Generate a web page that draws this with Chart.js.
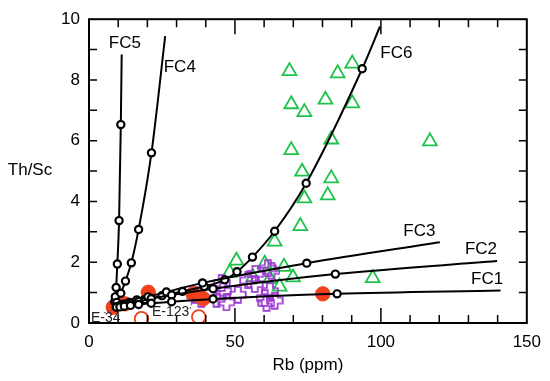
<!DOCTYPE html>
<html lang="en">
<head>
<meta charset="UTF-8">
<title>Th/Sc vs Rb</title>
<script src="https://cdn.jsdelivr.net/npm/chart.js@4.4.0/dist/chart.umd.min.js"></script>
<style>
  html, body { margin: 0; padding: 0; background: #fff; }
</style>
</head>
<body>
<canvas id="chart" width="550" height="381"></canvas>
<script>
// FC curves: first point = E-34 start, last point = end of line (no marker)
const fc1Rb   = [8.5, 9.4, 10.6, 12.1, 14.2, 17.0, 21.3, 28.3, 42.5, 85.0, 141.0];
const fc1ThSc = [0.50, 0.52, 0.53, 0.55, 0.58, 0.61, 0.65, 0.70, 0.79, 0.96, 1.07];
const fc2Rb   = [8.5, 9.4, 10.6, 12.1, 14.2, 17.0, 21.3, 28.3, 42.5, 84.4, 139.8];
const fc2ThSc = [0.50, 0.53, 0.56, 0.60, 0.65, 0.71, 0.80, 0.92, 1.13, 1.61, 2.04];
const fc3Rb   = [8.5, 9.4, 10.5, 11.9, 13.8, 16.4, 20.2, 26.5, 38.9, 74.6, 120.2];
const fc3ThSc = [0.50, 0.53, 0.57, 0.62, 0.68, 0.76, 0.86, 1.02, 1.32, 1.97, 2.66];
const fc4Rb   = [8.5, 9.5, 10.9, 12.5, 14.5, 17.0, 21.4, 26.1];
const fc4ThSc = [0.50, 0.68, 0.98, 1.38, 1.98, 3.08, 5.60, 9.44];
const fc5Rb   = [8.5, 8.8, 9.0, 9.3, 9.7, 10.3, 10.9, 11.2];
const fc5ThSc = [0.50, 0.70, 0.86, 1.17, 1.94, 3.37, 6.53, 8.84];
const fc6Rb   = [8.5, 11.0, 14.5, 19.0, 25.0, 32.0, 39.5, 46.5, 50.7, 56.0, 63.6, 74.4, 93.6, 99.7];
const fc6ThSc = [0.50, 0.57, 0.66, 0.77, 0.90, 1.04, 1.20, 1.42, 1.69, 2.17, 3.02, 4.60, 8.37, 9.76];

// sample groups
const triRb   = [68.7, 85.2, 90.2, 69.3, 73.8, 81.0, 90.2, 116.8, 83.0, 69.3, 73.0, 83.0, 73.8, 81.8, 72.4, 63.6, 50.5, 60.2, 66.8, 69.9, 48.2, 56.2, 65.3, 97.2, 62.0];
const triThSc = [8.29, 8.22, 8.54, 7.20, 6.94, 7.35, 7.23, 5.98, 6.04, 5.69, 4.98, 4.76, 4.10, 4.20, 3.19, 2.68, 2.05, 1.95, 1.85, 1.50, 1.66, 1.50, 1.20, 1.48, 1.45];
const crossRb   = [36.2, 38.5, 41.0, 43.7, 45.5, 46.0, 47.1, 51.0, 54.5, 57.0, 56.8, 61.3, 62.5, 60.2, 60.8, 62.0, 63.6];
const crossThSc = [0.92, 0.80, 1.00, 0.80, 1.32, 1.05, 0.68, 0.93, 1.40, 1.62, 1.28, 1.80, 1.72, 0.82, 0.66, 1.05, 0.74];
const redRb   = [8.3, 12.3, 20.3, 35.7, 39.1, 80.1];
const redThSc = [0.52, 0.63, 1.01, 0.96, 0.80, 0.96];
const openRb   = [18.0, 37.6];
const openThSc = [0.14, 0.20];

const xTicks = [0, 50, 100, 150];
const yTicks = [0, 2, 4, 6, 8, 10];

const curveLabels = [
  { text: 'FC5', x: 12.3, y: 9.22 },
  { text: 'FC4', x: 31.1, y: 8.40 },
  { text: 'FC6', x: 105.3, y: 8.89 },
  { text: 'FC3', x: 113.2, y: 3.02 },
  { text: 'FC2', x: 134.3, y: 2.43 },
  { text: 'FC1', x: 136.4, y: 1.45 }
];

const FONT = '"Liberation Sans", Arial, sans-serif';
const pts = (xs, ys) => xs.map((x, i) => ({ x: x, y: ys[i] }));

// open plus marker
function plusMarker() {
  const c = document.createElement('canvas');
  c.width = 18; c.height = 18;
  const g = c.getContext('2d');
  const m = 9, w = 3, e = 7.8;
  g.strokeStyle = '#9b35cf';
  g.lineWidth = 1.7;
  g.beginPath();
  g.moveTo(m - w, m - e); g.lineTo(m + w, m - e); g.lineTo(m + w, m - w);
  g.lineTo(m + e, m - w); g.lineTo(m + e, m + w); g.lineTo(m + w, m + w);
  g.lineTo(m + w, m + e); g.lineTo(m - w, m + e); g.lineTo(m - w, m + w);
  g.lineTo(m - e, m + w); g.lineTo(m - e, m - w); g.lineTo(m - w, m - w);
  g.closePath();
  g.stroke();
  return c;
}

function curve(xs, ys) {
  const n = xs.length;
  return {
    data: pts(xs, ys),
    showLine: true,
    borderColor: '#000',
    borderWidth: 2,
    cubicInterpolationMode: 'monotone',
    pointRadius: c => (c.dataIndex === 0 || c.dataIndex === n - 1) ? 0 : 3.6,
    pointBackgroundColor: '#fff',
    pointBorderColor: '#000',
    pointBorderWidth: 2.2
  };
}

const overlay = {
  id: 'overlay',
  afterDraw(chart) {
    const { ctx, chartArea: a, scales: { x, y } } = chart;
    ctx.save();
    ctx.strokeStyle = '#000';
    ctx.lineWidth = 2;
    ctx.strokeRect(a.left, a.top, a.right - a.left, a.bottom - a.top);
    ctx.lineWidth = 1.5;
    ctx.beginPath();
    for (let v = 10; v < 150; v += 10) {
      const px = x.getPixelForValue(v);
      const len = v % 50 === 0 ? 15 : 8;
      ctx.moveTo(px, a.bottom); ctx.lineTo(px, a.bottom - len);
      ctx.moveTo(px, a.top); ctx.lineTo(px, a.top + len);
    }
    for (let v = 1; v < 10; v++) {
      const py = y.getPixelForValue(v);
      ctx.moveTo(a.left, py); ctx.lineTo(a.left + 8, py);
      ctx.moveTo(a.right, py); ctx.lineTo(a.right - 8, py);
    }
    ctx.stroke();

    ctx.fillStyle = '#000';
    ctx.textAlign = 'center';
    ctx.textBaseline = 'middle';
    ctx.font = '17px ' + FONT;
    curveLabels.forEach(l => ctx.fillText(l.text, x.getPixelForValue(l.x), y.getPixelForValue(l.y)));
    ctx.fillText('Rb (ppm)', (a.left + a.right) / 2, 365);
    ctx.fillText('Th/Sc', 30, 170);

    // sample tags
    ctx.font = '14px ' + FONT;
    ctx.fillStyle = '#222';
    ctx.textAlign = 'left';
    ctx.fillText('E-34', 91, 318);
    ctx.fillText('E-123', 152, 312);
    ctx.strokeStyle = '#333';
    ctx.lineWidth = 0.8;
    ctx.setLineDash([2, 1.5]);
    ctx.beginPath();
    ctx.moveTo(104, 313); ctx.lineTo(x.getPixelForValue(8.3) - 2, y.getPixelForValue(0.52) + 3);
    ctx.moveTo(190, 309); ctx.lineTo(x.getPixelForValue(35.7), y.getPixelForValue(0.84));
    ctx.stroke();
    ctx.restore();
  }
};

new Chart(document.getElementById('chart'), {
  type: 'scatter',
  data: {
    datasets: [
      curve(fc1Rb, fc1ThSc),
      curve(fc2Rb, fc2ThSc),
      curve(fc3Rb, fc3ThSc),
      curve(fc4Rb, fc4ThSc),
      curve(fc5Rb, fc5ThSc),
      curve(fc6Rb, fc6ThSc),
      {
        data: pts(redRb, redThSc),
        pointStyle: 'circle',
        pointRadius: 7.2,
        pointBackgroundColor: '#f2401c',
        pointBorderColor: '#f2401c',
        pointBorderWidth: 1
      },
      {
        data: pts(openRb, openThSc),
        pointStyle: 'circle',
        pointRadius: 6.8,
        pointBackgroundColor: 'rgba(0,0,0,0)',
        pointBorderColor: '#f2401c',
        pointBorderWidth: 1.8
      },
      {
        data: pts(crossRb, crossThSc),
        pointStyle: plusMarker()
      },
      {
        data: pts(triRb, triThSc),
        pointStyle: 'triangle',
        pointRadius: 8,
        pointBackgroundColor: 'rgba(0,0,0,0)',
        pointBorderColor: '#1ec24a',
        pointBorderWidth: 1.8
      }
    ]
  },
  options: {
    responsive: false,
    animation: false,
    devicePixelRatio: 1,
    layout: { padding: { top: 16, right: 22, left: 0, bottom: 0 } },
    plugins: { legend: { display: false }, tooltip: { enabled: false } },
    scales: {
      x: {
        type: 'linear', min: 0, max: 150,
        grid: { display: false, drawTicks: false },
        border: { display: false },
        afterBuildTicks: s => { s.ticks = xTicks.map(v => ({ value: v })); },
        afterFit: s => { s.height = 58; },
        ticks: { color: '#000', padding: 9, font: { family: FONT, size: 17 } }
      },
      y: {
        type: 'linear', min: 0, max: 10,
        grid: { display: false, drawTicks: false },
        border: { display: false },
        afterBuildTicks: s => { s.ticks = yTicks.map(v => ({ value: v })); },
        afterFit: s => { s.width = 89; },
        ticks: { color: '#000', padding: 9, font: { family: FONT, size: 17 } }
      }
    }
  },
  plugins: [overlay]
});
</script>
</body>
</html>
